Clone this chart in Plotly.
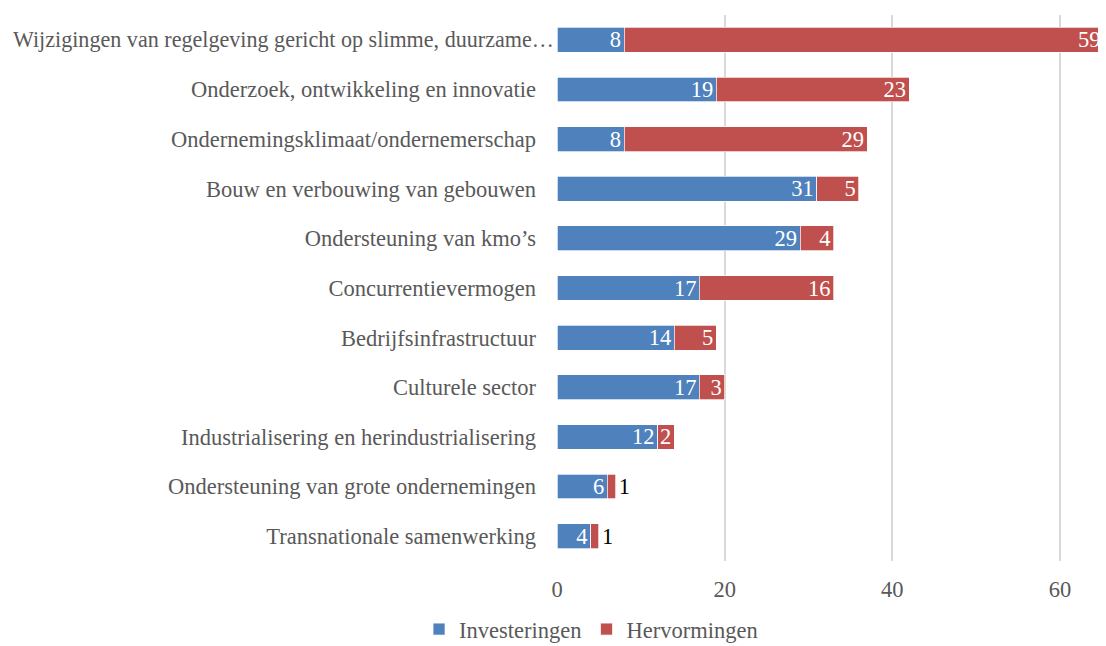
import plotly.graph_objects as go

categories = [
    "Wijzigingen van regelgeving gericht op slimme, duurzame…",
    "Onderzoek, ontwikkeling en innovatie",
    "Ondernemingsklimaat/ondernemerschap",
    "Bouw en verbouwing van gebouwen",
    "Ondersteuning van kmo’s",
    "Concurrentievermogen",
    "Bedrijfsinfrastructuur",
    "Culturele sector",
    "Industrialisering en herindustrialisering",
    "Ondersteuning van grote ondernemingen",
    "Transnationale samenwerking",
]
investeringen = [8, 19, 8, 31, 29, 17, 14, 17, 12, 6, 4]
hervormingen = [59, 23, 29, 5, 4, 16, 5, 3, 2, 1, 1]
x_max = 65.5

FONT = "Liberation Serif, Times New Roman, serif"
BLUE = "#4F81BD"
RED = "#C0504D"
GREY = "#595959"
FS = 22.5

totals = [a + b for a, b in zip(investeringen, hervormingen)]
red_pos = []
for v, t in zip(hervormingen, totals):
    if t > x_max:
        red_pos.append("none")
    elif v <= 1:
        red_pos.append("outside")
    else:
        red_pos.append("inside")
red_col = ["#000000" if v <= 1 else "#FFFFFF" for v in hervormingen]

fig = go.Figure()
fig.add_trace(go.Bar(
    y=categories, x=investeringen, orientation="h", name="Investeringen",
    marker=dict(color=BLUE, line=dict(color="#FFFFFF", width=0.7)),
    text=investeringen, textposition="inside", insidetextanchor="end", textangle=0,
    textfont=dict(family=FONT, size=FS, color="#FFFFFF"),
    constraintext="none", width=0.5,
))
fig.add_trace(go.Bar(
    y=categories, x=hervormingen, orientation="h", name="Hervormingen",
    marker=dict(color=RED, line=dict(color="#FFFFFF", width=0.7)),
    text=hervormingen, textposition=red_pos, insidetextanchor="end", textangle=0,
    textfont=dict(family=FONT, size=FS, color=red_col),
    constraintext="none", width=0.5,
))

# labels of bars that run past the axis end, placed at the visible end
for cat, v, t in zip(categories, hervormingen, totals):
    if t > x_max:
        fig.add_annotation(x=x_max, y=cat, text=str(v), showarrow=False,
                           xanchor="right", xshift=-3,
                           font=dict(family=FONT, size=FS, color="#FFFFFF"))

# the truncated (long) first category label sits closer to the axis
ticktext = [""] + categories[1:]
fig.add_annotation(xref="paper", x=0, y=categories[0], text=categories[0],
                   showarrow=False, xanchor="right", xshift=-1,
                   font=dict(family=FONT, size=22.1, color=GREY))

# page body has an 8px margin: shrink figure so the picture lines up with 1106x646
fig.update_layout(
    barmode="stack",
    width=1098, height=638,
    margin=dict(l=549, r=0, t=7, b=85, autoexpand=False),
    plot_bgcolor="#FFFFFF", paper_bgcolor="#FFFFFF",
    font=dict(family=FONT, size=FS, color=GREY),
    showlegend=True,
    legend=dict(orientation="h", x=0.062, xanchor="center",
                y=-0.086, yanchor="top",
                traceorder="normal",
                font=dict(family=FONT, size=FS, color=GREY)),
)
fig.update_xaxes(
    range=[0, x_max], tickvals=[0, 20, 40, 60], showgrid=True,
    gridcolor="#D9D9D9", gridwidth=1.5, zeroline=False, showline=False,
    tickfont=dict(family=FONT, size=FS, color=GREY), ticks="",
    ticklabelstandoff=12, automargin=False,
)
fig.update_yaxes(
    categoryorder="array", categoryarray=categories[::-1],
    tickvals=categories, ticktext=ticktext,
    showgrid=False, showline=False, ticks="",
    tickfont=dict(family=FONT, size=FS, color=GREY),
    ticklabelstandoff=20, automargin=False,
)

fig.write_html("out.html")
